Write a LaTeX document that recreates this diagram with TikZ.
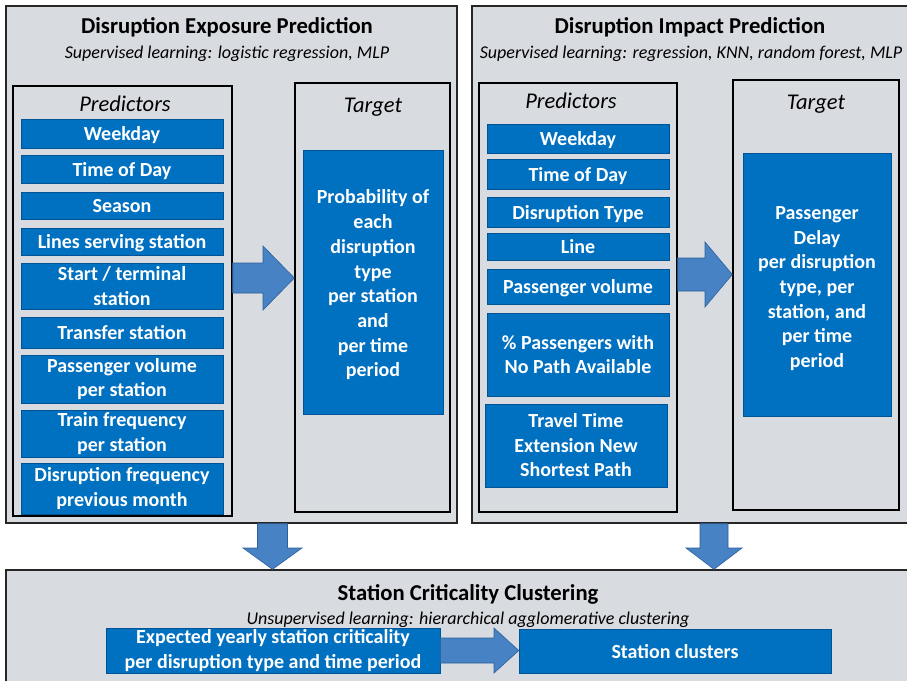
\documentclass[tikz,border=0pt]{standalone}
\usepackage{fontspec}
\setmainfont{Carlito}
\usetikzlibrary{shadows}
\definecolor{panelgray}{RGB}{216,219,223}
\definecolor{boxblue}{RGB}{0,112,192}
\definecolor{boxedge}{RGB}{0,84,150}
\definecolor{arrblue}{RGB}{70,130,196}
\definecolor{arredge}{RGB}{45,95,155}
\begin{document}
\begin{tikzpicture}[x=1pt,y=-1pt,
  panel/.style={draw=black!85, line width=1.4pt, fill=panelgray, inner sep=0pt},
  framebox/.style={draw=black, line width=1.4pt, inner sep=0pt},
  bbase/.style={fill=boxblue, draw=boxedge, line width=0.5pt, text=white, align=center, inner sep=0pt,
    font=\bfseries\fontsize{20}{24.5}\selectfont,
    drop shadow={shadow xshift=1.2pt, shadow yshift=-1.2pt, opacity=0.35}},
  bluebox/.style={bbase,
    execute at begin node={\rule{0pt}{19pt}},
    execute at end node={\rule[-5pt]{0pt}{5pt}}},
  multibox/.style={bbase},
  tgtbox/.style={bbase, font=\bfseries\fontsize{20}{24.7}\selectfont},
  ttl/.style={font=\bfseries\fontsize{22.7}{27}\selectfont, inner sep=0pt},
  subttl/.style={font=\itshape\fontsize{18}{22}\selectfont, inner sep=0pt},
  hdr/.style={font=\itshape\fontsize{22.5}{27}\selectfont, inner sep=0pt},
  blockarrow/.style={fill=arrblue, draw=arredge, line width=0.6pt, line join=miter}
]
\useasboundingbox (0,0) rectangle (907,680);

% panels
\node[panel, minimum width=451pt, minimum height=517pt] (exp) at (231.5,264.5) {};
\node[panel, minimum width=440pt, minimum height=517pt] (imp) at (692,264.5) {};
\node[panel, minimum width=906pt, minimum height=120pt] (crit) at (459,630) {};

% titles
\node[ttl] (expt) at (227,27) {Disruption Exposure Prediction};
\node[subttl] (exps) at (227,54) {Supervised learning: logistic regression, MLP};
\node[ttl] (impt) at (690,27) {Disruption Impact Prediction};
\node[subttl] (imps) at (691,54) {Supervised learning: regression, KNN, random forest, MLP};
\node[ttl] (critt) at (468,594) {Station Criticality Clustering};
\node[subttl] (crits) at (468,620) {Unsupervised learning: hierarchical agglomerative clustering};

% inner frames
\node[framebox, minimum width=219pt, minimum height=430pt] (lpred) at (122.5,301) {};
\node[framebox, minimum width=155pt, minimum height=429pt] (ltgt) at (372.5,297.5) {};
\node[framebox, minimum width=198pt, minimum height=429pt] (rpred) at (578,297.5) {};
\node[framebox, minimum width=166pt, minimum height=430pt] (rtgt) at (816,295) {};

\node[hdr] (lph) at (125,103.5) {Predictors};
\node[hdr] (lth) at (373,107.5) {Target};
\node[hdr] (rph) at (571,100.5) {Predictors};
\node[hdr] (rth) at (816,104.5) {Target};

% left predictors
\node[bluebox, minimum width=202pt, minimum height=29pt] (wd1) at (122,133.5) {Weekday};
\node[bluebox, minimum width=202pt, minimum height=28pt] (td1) at (122,169) {Time of Day};
\node[bluebox, minimum width=202pt, minimum height=27pt] (se1) at (122,205.5) {Season};
\node[bluebox, minimum width=202pt, minimum height=27pt] (ls1) at (122,241.5) {Lines serving station};
\node[multibox, minimum width=202pt, minimum height=46pt] (st1) at (122,286) {Start / terminal\\station};
\node[bluebox, minimum width=202pt, minimum height=31pt] (tr1) at (122,332.5) {Transfer station};
\node[multibox, minimum width=202pt, minimum height=48pt] (pv1) at (122,379) {Passenger volume\\per station};
\node[multibox, minimum width=202pt, minimum height=47pt] (tf1) at (122,433.5) {Train frequency\\per station};
\node[multibox, minimum width=202pt, minimum height=51pt] (df1) at (122,488.5) {Disruption frequency\\previous month};

% left target
\node[tgtbox, minimum width=140pt, minimum height=264pt] (lprob) at (373,282) {\rule{0pt}{20pt}Probability of\\each\\disruption\\type\\per station\\and\\per time\\period};

% right predictors
\node[bluebox, minimum width=182pt, minimum height=29pt] (wd2) at (578,138.5) {Weekday};
\node[bluebox, minimum width=182pt, minimum height=30pt] (td2) at (578,174) {Time of Day};
\node[bluebox, minimum width=182pt, minimum height=30pt] (dt2) at (578,212) {Disruption Type};
\node[bluebox, minimum width=182pt, minimum height=27pt] (li2) at (578,246.5) {Line};
\node[bluebox, minimum width=182pt, minimum height=35pt] (pv2) at (578,286.5) {Passenger volume};
\node[multibox, minimum width=182pt, minimum height=83pt] (np2) at (578,354.5) {\% Passengers with\\No Path Available};
\node[multibox, minimum width=182pt, minimum height=83pt] (tt2) at (576,445.5) {Travel Time\\Extension New\\Shortest Path};

% right target
\node[tgtbox, minimum width=148pt, minimum height=263pt] (rdel) at (817,284.5) {\rule{0pt}{21pt}Passenger\\Delay\\per disruption\\type, per\\station, and\\per time\\period};

% bottom boxes
\node[multibox, minimum width=334pt, minimum height=45pt] (expc) at (273,650.5) {Expected yearly station criticality\\per disruption type and time period};
\node[bluebox, minimum width=312pt, minimum height=44pt] (clus) at (675,651) {Station clusters};

% block arrows
\draw[blockarrow] (lpred.east |- 0,263) -- (263,263) -- (263,246) -- (ltgt.west |- 0,278)
  -- (263,310) -- (263,293) -- (lpred.east |- 0,293) -- cycle;
\draw[blockarrow] (rpred.east |- 0,258) -- (705,258) -- (705,242) -- (rtgt.west |- 0,274.5)
  -- (705,307) -- (705,291) -- (rpred.east |- 0,291) -- cycle;
\draw[blockarrow] (exp.south -| 257.5,0) -- (257.5,548) -- (243,548) -- (272.5,0 |- crit.north)
  -- (302,548) -- (287.5,548) -- (exp.south -| 287.5,0) -- cycle;
\draw[blockarrow] (imp.south -| 700,0) -- (700,548) -- (686,548) -- (714,0 |- crit.north)
  -- (742,548) -- (728,548) -- (imp.south -| 728,0) -- cycle;
\draw[blockarrow] (expc.east |- 0,638) -- (494,638) -- (494,628) -- (clus.west |- 0,650.5)
  -- (494,673) -- (494,663) -- (expc.east |- 0,663) -- cycle;
\end{tikzpicture}
\end{document}
